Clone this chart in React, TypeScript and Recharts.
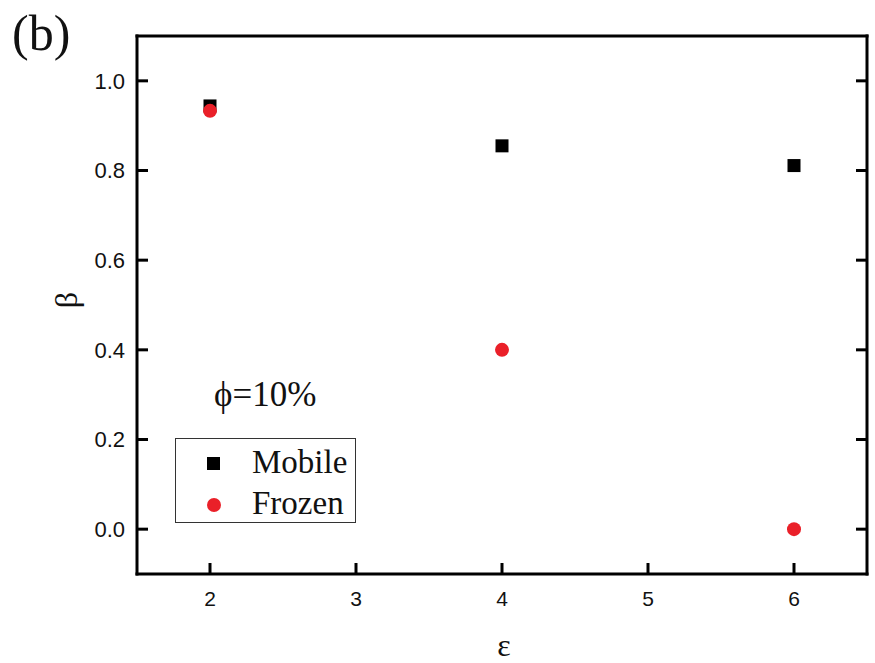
import React from 'react';
import { ScatterChart, Scatter, XAxis, YAxis } from 'recharts';

// Strain amplitude ε and the fitted exponent β for both particle types
const epsilon = [2, 4, 6];
const mobileBeta = [0.944, 0.855, 0.811];
const frozenBeta = [0.933, 0.4, 0.0];

const xTicks = [2, 3, 4, 5, 6];
const yTicks = [0, 0.2, 0.4, 0.6, 0.8, 1.0];

const mobileData = epsilon.map((e, i) => ({ eps: e, beta: mobileBeta[i] }));
const frozenData = epsilon.map((e, i) => ({ eps: e, beta: frozenBeta[i] }));

const RED = '#ea2029';
const INK = '#000';
const TICK_LEN = 11;

const sans = '"Liberation Sans", Arial, sans-serif';
const serif = '"Liberation Serif", "DejaVu Serif", "Times New Roman", serif';

const SquareMark = (p: any) => (
  <rect x={Number(p.cx) - 6.5} y={Number(p.cy) - 6.5} width={13} height={13} fill={INK} />
);
const CircleMark = (p: any) => <circle cx={Number(p.cx)} cy={Number(p.cy)} r={7} fill={RED} />;

// Left axis: label outside, tick mark pointing into the plot
const LeftTick = (p: any) => {
  const x = Number(p.x);
  const y = Number(p.y);
  const ax = x + 12;
  return (
    <g>
      <line x1={ax} x2={ax + TICK_LEN} y1={y} y2={y} stroke={INK} strokeWidth={3} />
      <text x={x} y={y} dy="0.36em" textAnchor="end" fontFamily={sans} fontSize={22} fill="#111">
        {Number(p.payload.value).toFixed(1)}
      </text>
    </g>
  );
};

// Right axis: inward tick marks only
const RightTick = (p: any) => {
  const x = Number(p.x);
  const y = Number(p.y);
  return <line x1={x - TICK_LEN} x2={x} y1={y} y2={y} stroke={INK} strokeWidth={3} />;
};

// Bottom axis: inward tick marks with labels below
const BottomTick = (p: any) => {
  const x = Number(p.x);
  const y = Number(p.y);
  const ay = y - 17;
  return (
    <g>
      <line x1={x} x2={x} y1={ay} y2={ay - TICK_LEN} stroke={INK} strokeWidth={3} />
      <text x={x} y={y} dy="0.71em" textAnchor="middle" fontFamily={sans} fontSize={21} fill="#111">
        {p.payload.value}
      </text>
    </g>
  );
};

const axisLine = { stroke: INK, strokeWidth: 3, strokeLinecap: 'square' as const };

export default function App() {
  return (
    <div style={{ position: 'absolute', left: 0, top: 0, width: 875, height: 663, background: '#fff', overflow: 'hidden' }}>
      <ScatterChart width={875} height={663} margin={{ top: 35, right: 7, bottom: 0, left: 0 }}>
        <XAxis
          dataKey="eps"
          type="number"
          domain={[1.5, 6.5]}
          ticks={xTicks}
          height={89}
          tickSize={0}
          tickMargin={17}
          tickLine={false}
          axisLine={axisLine}
          tick={BottomTick}
          interval={0}
        />
        <XAxis
          xAxisId="top"
          orientation="top"
          dataKey="eps"
          type="number"
          domain={[1.5, 6.5]}
          height={1}
          tick={false}
          tickLine={false}
          axisLine={axisLine}
        />
        <YAxis
          dataKey="beta"
          type="number"
          domain={[-0.1, 1.1]}
          ticks={yTicks}
          width={137}
          tickSize={0}
          tickMargin={12}
          tickLine={false}
          axisLine={axisLine}
          tick={LeftTick}
          interval={0}
        />
        <YAxis
          yAxisId="right"
          orientation="right"
          dataKey="beta"
          type="number"
          domain={[-0.1, 1.1]}
          ticks={yTicks}
          width={1}
          tickSize={0}
          tickMargin={0}
          tickLine={false}
          axisLine={axisLine}
          tick={RightTick}
          interval={0}
        />
        <Scatter name="Mobile" data={mobileData} fill={INK} shape={SquareMark} isAnimationActive={false} />
        <Scatter name="Frozen" data={frozenData} fill={RED} shape={CircleMark} isAnimationActive={false} />
        {/* series bound to the frame axes so they share the same scales */}
        <Scatter
          name="frame"
          data={mobileData}
          xAxisId="top"
          yAxisId="right"
          shape={() => <g />}
          legendType="none"
          isAnimationActive={false}
        />
      </ScatterChart>

      {/* legend */}
      <div
        style={{
          position: 'absolute',
          left: 175,
          top: 438,
          width: 181,
          height: 85,
          border: '1px solid #333',
          background: '#fff',
          boxSizing: 'border-box',
          fontFamily: serif,
          fontSize: 33,
          color: '#111',
        }}
      >
        <div style={{ position: 'absolute', left: 31, top: 18, width: 13, height: 13, background: INK }} />
        <div style={{ position: 'absolute', left: 76, top: 4, lineHeight: '38px', whiteSpace: 'nowrap' }}>Mobile</div>
        <div
          style={{ position: 'absolute', left: 31, top: 59, width: 14, height: 14, borderRadius: 7, background: RED }}
        />
        <div style={{ position: 'absolute', left: 76, top: 45, lineHeight: '38px', whiteSpace: 'nowrap' }}>Frozen</div>
      </div>

      <div style={{ position: 'absolute', left: 12, top: 5, fontFamily: serif, fontSize: 50, color: '#111', lineHeight: '56px' }}>
        (b)
      </div>
      <div style={{ position: 'absolute', left: 214, top: 376, fontFamily: serif, fontSize: 35, color: '#111', lineHeight: '38px', whiteSpace: 'nowrap' }}>
        ϕ=10%
      </div>
      <div
        style={{
          position: 'absolute',
          left: 66,
          top: 300,
          transform: 'translate(-50%, -50%) rotate(-90deg)',
          fontFamily: serif,
          fontSize: 32,
          color: '#111',
          lineHeight: '36px',
        }}
      >
        β
      </div>
      <div
        style={{
          position: 'absolute',
          left: 504,
          top: 645,
          transform: 'translate(-50%, -50%)',
          fontFamily: serif,
          fontSize: 32,
          color: '#111',
          lineHeight: '28px',
        }}
      >
        ε
      </div>
    </div>
  );
}
